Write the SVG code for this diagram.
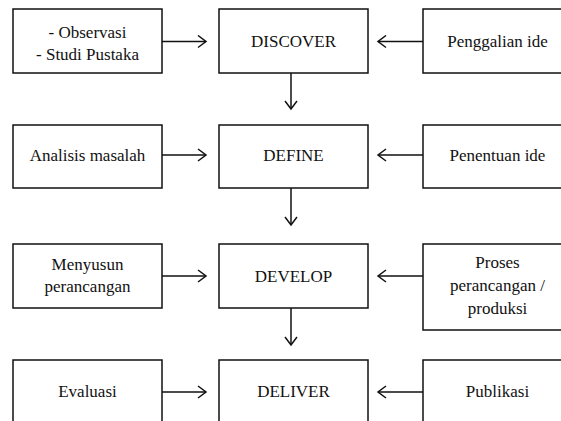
<svg xmlns="http://www.w3.org/2000/svg" width="561" height="421" viewBox="0 0 561 421">
<style>
rect{fill:#fff;stroke:#111;stroke-width:1.5}
text{font-family:"Liberation Serif","Times New Roman",serif;font-size:17px;fill:#111;text-anchor:middle}
.c line{stroke:#111;stroke-width:1.5;marker-end:url(#ah)}
</style>
<defs>
<marker id="ah" markerUnits="userSpaceOnUse" viewBox="-10 -7 12 14" refX="0" refY="0" markerWidth="12" markerHeight="14" orient="auto">
<path d="M-8,-6 L0,0 L-8,6" fill="none" stroke="#111" stroke-width="1.5"/>
</marker>
</defs>
<rect x="0" y="0" width="561" height="421" style="stroke:none"/>
<g class="c" id="connectors">
<line x1="162" y1="41.5" x2="206" y2="41.5"/>
<line x1="423" y1="41.5" x2="378" y2="41.5"/>
<line x1="291" y1="73" x2="291" y2="109"/>
<line x1="162" y1="155" x2="206" y2="155"/>
<line x1="423" y1="155" x2="378" y2="155"/>
<line x1="291" y1="188" x2="291" y2="225"/>
<line x1="162" y1="276" x2="206" y2="276"/>
<line x1="423" y1="276" x2="378" y2="276"/>
<line x1="291" y1="308" x2="291" y2="345"/>
<line x1="162" y1="392" x2="206" y2="392"/>
<line x1="423" y1="392" x2="378" y2="392"/>
</g>
<g id="observasi"><rect x="13" y="9" width="149" height="64"/><text x="87.5" y="38">- Observasi</text><text x="87.5" y="60">- Studi Pustaka</text></g>
<g id="discover"><rect x="219" y="9" width="149" height="64"/><text x="293.5" y="47">DISCOVER</text></g>
<g id="penggalian"><rect x="423" y="9" width="150" height="64"/><text x="497.5" y="47">Penggalian ide</text></g>
<g id="analisis"><rect x="13" y="125" width="149" height="63"/><text x="87.5" y="161">Analisis masalah</text></g>
<g id="define"><rect x="219" y="125" width="149" height="63"/><text x="293.5" y="161">DEFINE</text></g>
<g id="penentuan"><rect x="423" y="125" width="150" height="63"/><text x="497.5" y="161">Penentuan ide</text></g>
<g id="menyusun"><rect x="13" y="244" width="149" height="64"/><text x="87.5" y="270">Menyusun</text><text x="87.5" y="292">perancangan</text></g>
<g id="develop"><rect x="219" y="244" width="149" height="64"/><text x="293.5" y="282">DEVELOP</text></g>
<g id="proses"><rect x="423" y="244" width="150" height="86"/><text x="497.5" y="268">Proses</text><text x="497.5" y="291">perancangan /</text><text x="497.5" y="314">produksi</text></g>
<g id="evaluasi"><rect x="13" y="360" width="149" height="80"/><text x="87.5" y="397">Evaluasi</text></g>
<g id="deliver"><rect x="219" y="360" width="149" height="80"/><text x="293.5" y="397">DELIVER</text></g>
<g id="publikasi"><rect x="423" y="360" width="150" height="80"/><text x="497.5" y="397">Publikasi</text></g>
</svg>
